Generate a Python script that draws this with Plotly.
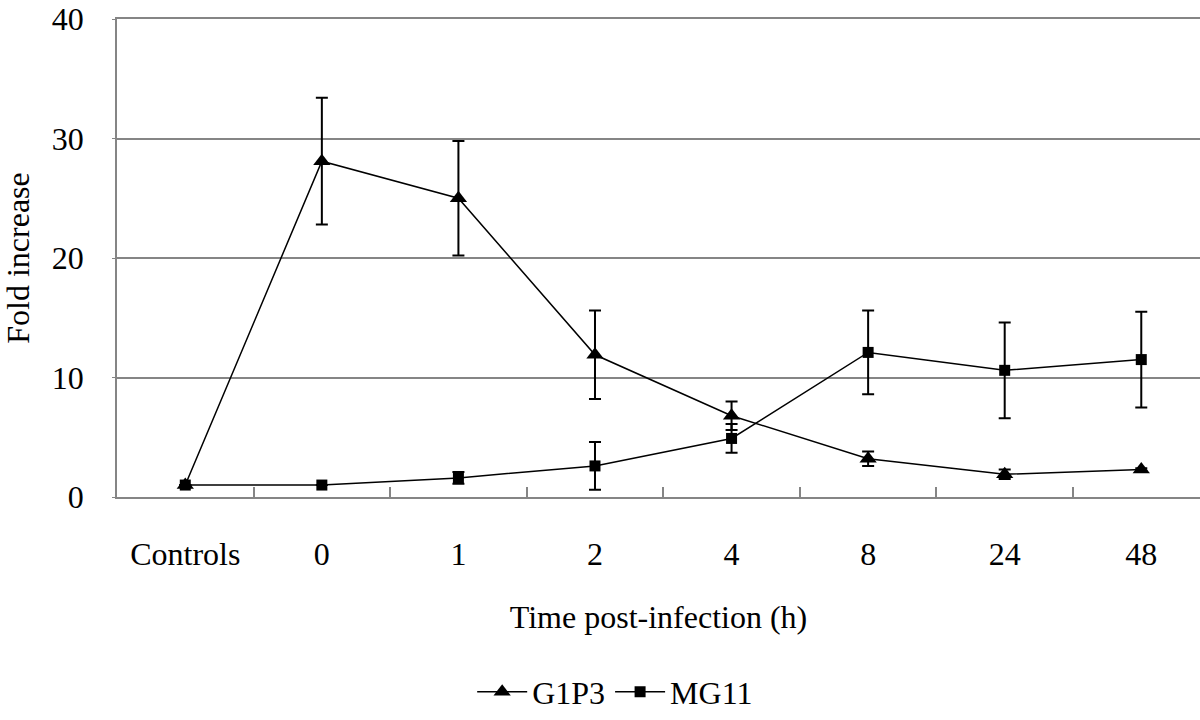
import plotly.graph_objects as go

categories = ["Controls", "0", "1", "2", "4", "8", "24", "48"]
g1p3 = [1.0, 28.1, 25.0, 11.9, 6.8, 3.2, 1.9, 2.3]
g1p3_err = [0.0, 5.3, 4.8, 3.7, 1.2, 0.6, 0.4, 0.1]
mg11 = [1.0, 1.0, 1.6, 2.6, 4.9, 12.1, 10.6, 11.5]
mg11_err = [0.0, 0.0, 0.5, 2.0, 1.2, 3.5, 4.0, 4.0]

FONT = "Liberation Serif"
FS = 32
GRID = "#858585"

fig = go.Figure()
fig.add_trace(go.Scatter(
    x=categories, y=g1p3, name="G1P3", mode="lines+markers",
    line=dict(color="black", width=1.5),
    marker=dict(symbol="triangle-up", size=15, color="black"),
    error_y=dict(type="data", array=g1p3_err, visible=True, color="black", thickness=2, width=6),
))
fig.add_trace(go.Scatter(
    x=categories, y=mg11, name="MG11", mode="lines+markers",
    line=dict(color="black", width=1.5),
    marker=dict(symbol="square", size=11, color="black"),
    error_y=dict(type="data", array=mg11_err, visible=True, color="black", thickness=2, width=6),
))

fig.update_layout(
    width=1200, height=720,
    margin=dict(l=117, r=0, t=19, b=221),
    paper_bgcolor="white", plot_bgcolor="white",
    font=dict(family=FONT, size=FS, color="black"),
    showlegend=True,
    legend=dict(orientation="h", x=0.46, xanchor="center", y=-0.408, yanchor="middle",
                font=dict(family=FONT, size=FS), itemwidth=50, tracegroupgap=0),
    xaxis=dict(
        type="category", range=[-0.5, 7.43],
        showline=True, linecolor=GRID, linewidth=1.5, mirror=True,
        ticks="inside", ticklen=10, tickcolor=GRID, tickwidth=1.5,
        tickson="boundaries", showgrid=False,
        ticklabelstandoff=28,
        tickfont=dict(family=FONT, size=FS),
        title=dict(text="Time post-infection (h)", font=dict(family=FONT, size=FS), standoff=34),
    ),
    yaxis=dict(
        range=[0, 40], tickvals=[0, 10, 20, 30, 40],
        showline=True, linecolor=GRID, linewidth=1.5, mirror=False,
        ticks="outside", ticklen=3, tickcolor=GRID,
        showgrid=True, gridcolor=GRID, gridwidth=1.5,
        zeroline=False,
        ticklabelstandoff=22,
        tickfont=dict(family=FONT, size=FS),
        title=dict(text="Fold increase", font=dict(family=FONT, size=FS), standoff=16),
    ),
)

fig.write_html("out.html", config={"displayModeBar": False},
               post_script="document.body.style.margin='0';document.body.style.overflow='hidden';")
